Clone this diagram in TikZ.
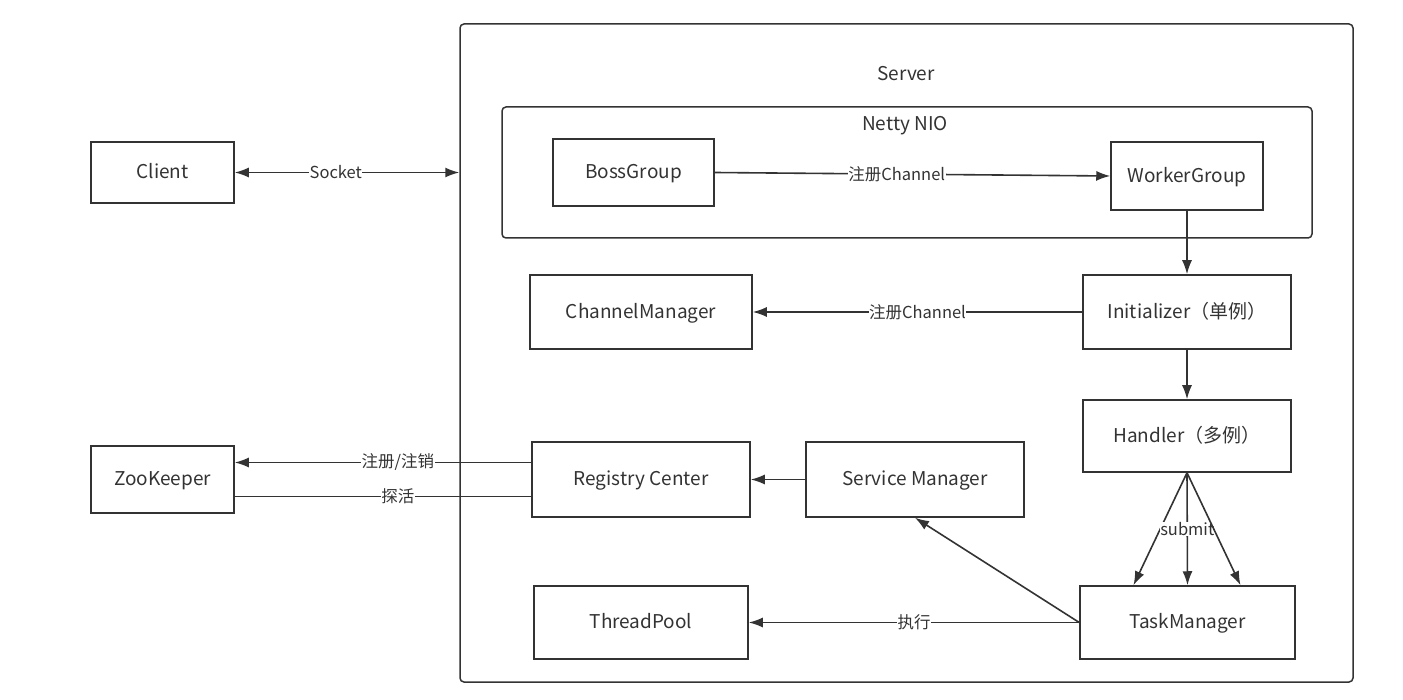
\documentclass[tikz,border=0pt]{standalone}
\usepackage{fontspec}
\setmainfont{Noto Sans CJK SC}
\usetikzlibrary{arrows.meta,positioning}
\definecolor{linecol}{HTML}{333333}

\begin{document}
\begin{tikzpicture}[x=1pt,y=-1pt,font=\fontsize{19}{22}\selectfont,
every node/.style={text=linecol},
box/.style={draw=linecol,line width=1.5pt,inner sep=0pt,text depth=0.25em},
frame/.style={draw=linecol,line width=1.5pt,rounded corners=4pt,inner sep=0pt},
lbl/.style={fill=white,inner sep=0.5pt,font=\fontsize{16.5}{19}\selectfont},
arr/.style={draw=linecol,line width=1.6pt,-{Latex[length=14pt,width=10pt]}},
biarr/.style={arr,{Latex[length=14pt,width=10pt]}-{Latex[length=14pt,width=10pt]}},
line/.style={draw=linecol,line width=1.6pt}]
\useasboundingbox (0,0) rectangle (1403,700);

\node[frame,minimum width=893pt,minimum height=658pt] (server) at (906.5,353) {};
\node (serverlbl) at (906,74) {Server};
\node[frame,minimum width=810pt,minimum height=131pt] (netty) at (907,172.5) {};
\node (nettylbl) at (905,126) {Netty NIO};

\node[box,minimum width=143pt,minimum height=61pt] (client) at (162.5,172.5) {Client};
\node[box,minimum width=143pt,minimum height=67pt] (zk) at (162.5,479.5) {ZooKeeper};
\node[box,minimum width=161pt,minimum height=67pt] (boss) at (633.5,172.5) {BossGroup};
\node[box,minimum width=152pt,minimum height=68pt] (worker) at (1187,176) {WorkerGroup};
\node[box,minimum width=222pt,minimum height=74pt] (chan) at (641,312) {ChannelManager};
\node[box,minimum width=208pt,minimum height=74pt] (init) at (1187,312) {Initializer（单例）};
\node[box,minimum width=208pt,minimum height=72pt] (handler) at (1187,436) {Handler（多例）};
\node[box,minimum width=218pt,minimum height=75pt] (reg) at (641,479.5) {Registry Center};
\node[box,minimum width=218pt,minimum height=75pt] (svc) at (915,479.5) {Service Manager};
\node[box,minimum width=214pt,minimum height=73pt] (pool) at (641,622.5) {ThreadPool};
\node[box,minimum width=215pt,minimum height=73pt] (task) at (1187.5,622.5) {TaskManager};

\draw[biarr] (client.east) -- node[lbl,pos=0.45] {Socket} (client.east -| server.west);
\draw[arr] (boss.east) -- node[lbl,pos=0.46] {注册Channel} (worker.west);
\draw[arr] (worker.south) -- (init.north);
\draw[arr] (init.west) -- node[lbl] {注册Channel} (chan.east);
\draw[arr] (init.south) -- (handler.north);
\draw[arr] (handler.south) -- ([xshift=-54pt]task.north);
\draw[arr] (handler.south) -- node[lbl,pos=0.5] {submit} (task.north);
\draw[arr] (handler.south) -- ([xshift=53pt]task.north);
\draw[arr] (task.west) -- node[lbl] {执行} (pool.east);
\draw[arr] (task.west) -- (svc.south);
\draw[arr] (svc.west) -- (reg.east);
\draw[arr] ([yshift=17pt]reg.west) -- node[lbl,pos=0.45] {注册/注销} ([yshift=17pt]zk.east);
\draw[line] ([yshift=-17pt]zk.east) -- node[lbl,pos=0.55] {探活} ([yshift=-17pt]reg.west);
\end{tikzpicture}
\end{document}
